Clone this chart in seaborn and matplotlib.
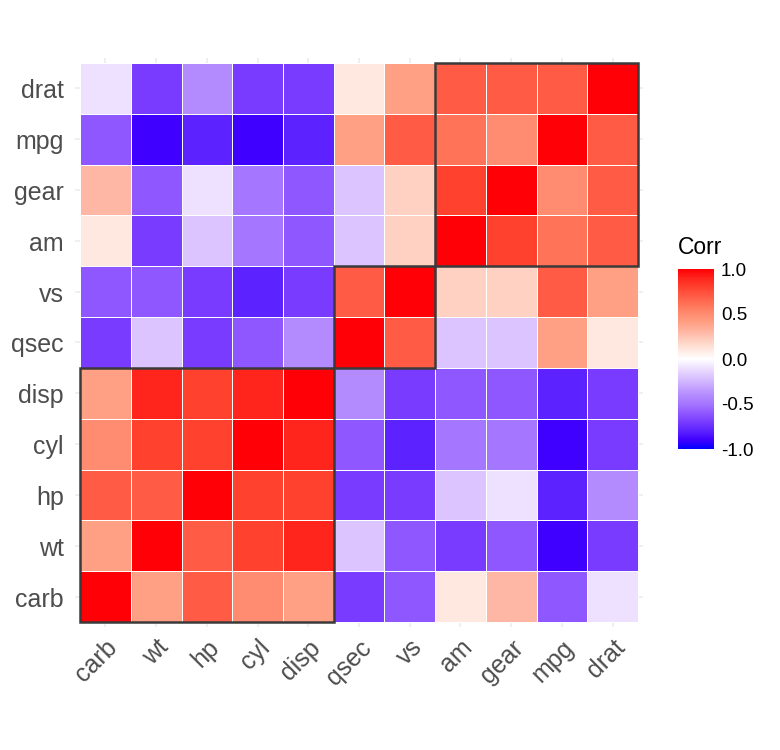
import numpy as np
import pandas as pd
import matplotlib
matplotlib.use("Agg")
import matplotlib.pyplot as plt
import matplotlib.transforms as mtransforms
from matplotlib.colors import LinearSegmentedColormap
from matplotlib.patches import Rectangle
import seaborn as sns

variables = ["mpg", "cyl", "disp", "hp", "drat", "wt", "qsec", "vs", "am", "gear", "carb"]
# correlation values (rounded to one decimal, as the tile colours show)
corr_values = [
    [1.0, -0.9, -0.8, -0.8, 0.7, -0.9, 0.4, 0.7, 0.6, 0.5, -0.6],
    [-0.9, 1.0, 0.9, 0.8, -0.7, 0.8, -0.6, -0.8, -0.5, -0.5, 0.5],
    [-0.8, 0.9, 1.0, 0.8, -0.7, 0.9, -0.4, -0.7, -0.6, -0.6, 0.4],
    [-0.8, 0.8, 0.8, 1.0, -0.4, 0.7, -0.7, -0.7, -0.2, -0.1, 0.7],
    [0.7, -0.7, -0.7, -0.4, 1.0, -0.7, 0.1, 0.4, 0.7, 0.7, -0.1],
    [-0.9, 0.8, 0.9, 0.7, -0.7, 1.0, -0.2, -0.6, -0.7, -0.6, 0.4],
    [0.4, -0.6, -0.4, -0.7, 0.1, -0.2, 1.0, 0.7, -0.2, -0.2, -0.7],
    [0.7, -0.8, -0.7, -0.7, 0.4, -0.6, 0.7, 1.0, 0.2, 0.2, -0.6],
    [0.6, -0.5, -0.6, -0.2, 0.7, -0.7, -0.2, 0.2, 1.0, 0.8, 0.1],
    [0.5, -0.5, -0.6, -0.1, 0.7, -0.6, -0.2, 0.2, 0.8, 1.0, 0.3],
    [-0.6, 0.5, 0.4, 0.7, -0.1, 0.4, -0.7, -0.6, 0.1, 0.3, 1.0],
]
order = ["carb", "wt", "hp", "cyl", "disp", "qsec", "vs", "am", "gear", "mpg", "drat"]
clusters = [["carb", "wt", "hp", "cyl", "disp"], ["qsec", "vs"], ["am", "gear", "mpg", "drat"]]
legend_ticks = [-1.0, -0.5, 0.0, 0.5, 1.0]

# colour scale anchors (blue - white - red), read from the tiles
scale_stops = [-1.0, -0.9, -0.8, -0.7, -0.6, -0.5, -0.4, -0.3, -0.2, -0.1, 0.0,
               0.1, 0.2, 0.3, 0.4, 0.5, 0.6, 0.7, 0.8, 0.9, 1.0]
scale_colors = ["#0000FF", "#4000FF", "#5C22FF", "#783BFF", "#8F57FF", "#A576FF",
                "#B48BFF", "#C8A8FF", "#DBC4FF", "#EEE0FF", "#FFFFFF",
                "#FFE8E0", "#FFD1C2", "#FFB7A5", "#FFA085", "#FF8C70", "#FF7459",
                "#FF5B45", "#FF412E", "#FF241C", "#FF0006"]
cmap = LinearSegmentedColormap.from_list(
    "corr", list(zip([(s + 1) / 2 for s in scale_stops], scale_colors)), N=1024)

df = pd.DataFrame(corr_values, index=variables, columns=variables)
rows_top_down = order[::-1]
mat = df.loc[rows_top_down, order]

sns.set_theme(style="white")
plt.rcParams["font.family"] = ["Liberation Sans", "DejaVu Sans"]

fig = plt.figure(figsize=(7.8, 7.5), dpi=100)
ax = fig.add_axes([75 / 780, 1 - 627 / 750, 568 / 780, 569 / 750])
cax = fig.add_axes([678 / 780, 1 - 449 / 750, 36 / 780, 180 / 750])

sns.heatmap(mat, ax=ax, cbar_ax=cax, cmap=cmap, vmin=-1, vmax=1,
            linewidths=0.6, linecolor="white", square=False)

n = len(order)
ax.set_xlim(-0.1, n + 0.1)
ax.set_ylim(n + 0.1, -0.1)
ax.set_axisbelow(True)
ax.grid(True, color="#EBEBEB", linewidth=1.1)
for s in ax.spines.values():
    s.set_visible(False)
ax.tick_params(axis="x", length=0, pad=6)
ax.tick_params(axis="y", length=0, pad=8)
ax.set_xlabel("")
ax.set_ylabel("")
ax.set_xticks(np.arange(n) + 0.5)
ax.set_xticklabels(order, rotation=45, ha="right", rotation_mode="anchor",
                   fontsize=18, color="#4D4D4D")
ax.set_yticks(np.arange(n) + 0.5)
ax.set_yticklabels(rows_top_down, rotation=0, fontsize=18, color="#4D4D4D")
offset = mtransforms.ScaledTranslation(0, -3 / 100, fig.dpi_scale_trans)
for lab in ax.get_yticklabels():
    lab.set_va("center")
    lab.set_transform(lab.get_transform() + offset)

# cluster rectangles
for cl in clusters:
    xs = [order.index(v) for v in cl]
    ys = [rows_top_down.index(v) for v in cl]
    x0, y0 = min(xs), min(ys)
    ax.add_patch(Rectangle((x0, y0), max(xs) - x0 + 1, max(ys) - y0 + 1,
                           fill=False, edgecolor="#3A3A3A", linewidth=1.8, zorder=5,
                           clip_on=False))

cbar = ax.collections[0].colorbar
cbar.outline.set_visible(False)
cbar.set_ticks(legend_ticks)
cbar.set_ticklabels([f"{t:.1f}" for t in legend_ticks])
cax.yaxis.set_ticks_position("both")
cax.tick_params(axis="y", direction="in", color="white", length=6, width=1,
                labelsize=13.5, labelcolor="black", pad=5, labelright=True, labelleft=False)
fig.text(678 / 780, 1 - 248 / 750, "Corr", fontsize=16.5, color="black", va="center", ha="left")

fig.savefig("out.png", dpi=100)
